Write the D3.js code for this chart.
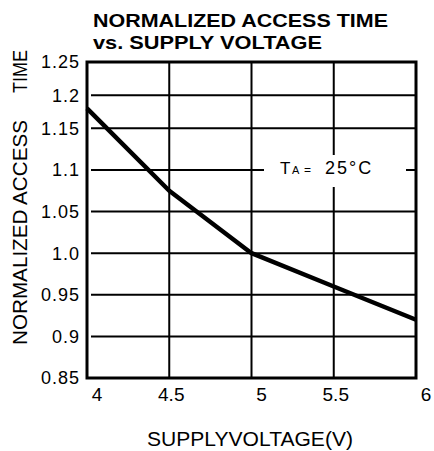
<!DOCTYPE html>
<html>
<head>
<meta charset="utf-8">
<script src="https://cdn.jsdelivr.net/npm/d3@7"></script>
<style>
  body { margin: 0; background: #fff; }
  svg { display: block; font-family: "Liberation Sans", Arial, sans-serif; }
</style>
</head>
<body>
<svg id="chart"></svg>
<script>
var WIDTH = 434;
var HEIGHT = 451;

// data
var voltage = [4, 4.5, 5, 5.5, 6];
var accessTime = [1.18, 1.075, 1.0, 0.96, 0.92];
var xTicks = [4, 4.5, 5, 5.5, 6];
var yTicks = [0.85, 0.9, 0.95, 1.0, 1.05, 1.1, 1.15, 1.2, 1.25];
var yTickLabels = ['0.85', '0.9', '0.95', '1.0', '1.05', '1.1', '1.15', '1.2', '1.25'];

// plot box (don't call these top/left, window.top is taken)
var plotLeft = 87, plotRight = 416, plotTop = 62, plotBottom = 378;

var svg = d3.select('#chart')
    .attr('width', WIDTH)
    .attr('height', HEIGHT);

var x = d3.scaleLinear().domain([4, 6]).range([plotLeft, plotRight]);
// the original grid is a bit squeezed near the top, so use a two-piece scale
var y = d3.scaleLinear()
    .domain([0.85, 1.15, 1.25])
    .range([plotBottom, plotBottom - (plotBottom - plotTop) * 0.79, plotTop]);

var grid = svg.append('g');

// horizontal grid lines (skip the outer ones, the frame draws them)
grid.selectAll('line.h')
    .data(yTicks.slice(1, -1))
    .enter()
    .append('line')
    .attr('class', 'h')
    .attr('x1', plotLeft + 4)
    .attr('x2', plotRight)
    .attr('y1', function(d) { return y(d); })
    .attr('y2', function(d) { return y(d); })
    .attr('stroke', '#000')
    .attr('stroke-width', 2);

// vertical grid lines
grid.selectAll('line.v')
    .data(xTicks.slice(1, -1))
    .enter()
    .append('line')
    .attr('class', 'v')
    .attr('x1', function(d) { return x(d); })
    .attr('x2', function(d) { return x(d); })
    .attr('y1', plotTop)
    .attr('y2', plotBottom)
    .attr('stroke', '#000')
    .attr('stroke-width', 2);

// frame
svg.append('rect')
    .attr('x', plotLeft)
    .attr('y', plotTop)
    .attr('width', plotRight - plotLeft)
    .attr('height', plotBottom - plotTop)
    .attr('fill', 'none')
    .attr('stroke', '#000')
    .attr('stroke-width', 3);

// curve
var line = d3.line()
    .x(function(d) { return x(d[0]); })
    .y(function(d) { return y(d[1]); });

svg.append('path')
    .datum(d3.zip(voltage, accessTime))
    .attr('d', line)
    .attr('fill', 'none')
    .attr('stroke', '#000')
    .attr('stroke-width', 4.5)
    .attr('stroke-linejoin', 'round');

// annotation box
svg.append('rect')
    .attr('x', 264)
    .attr('y', 155)
    .attr('width', 142)
    .attr('height', 32)
    .attr('fill', '#fff');

var ta = svg.append('text')
    .attr('x', 280)
    .attr('y', 174)
    .attr('fill', '#000');
ta.append('tspan').attr('font-size', 17).text('T');
ta.append('tspan').attr('font-size', 11).attr('x', 292).text('A');
ta.append('tspan').attr('font-size', 12).attr('x', 304).text('=');
ta.append('tspan').attr('font-size', 18).attr('x', 325).attr('letter-spacing', 2).text('25°C');

// y tick labels
svg.selectAll('text.ytick')
    .data(yTicks)
    .enter()
    .append('text')
    .attr('class', 'ytick')
    .attr('x', 80)
    .attr('y', function(d) { return y(d); })
    .attr('dy', '0.36em')
    .attr('text-anchor', 'end')
    .attr('font-size', 18)
    .attr('letter-spacing', 1)
    .text(function(d, i) { return yTickLabels[i]; });

// x tick labels (the integers sit a bit right of their grid lines in the original)
svg.selectAll('text.xtick')
    .data(xTicks)
    .enter()
    .append('text')
    .attr('class', 'xtick')
    .attr('x', function(d) { return x(d) + (d % 1 === 0 ? 10 : 2); })
    .attr('y', 401)
    .attr('text-anchor', 'middle')
    .attr('font-size', 19)
    .text(function(d) { return d; });

// axis titles
svg.append('text')
    .attr('x', 250)
    .attr('y', 446)
    .attr('text-anchor', 'middle')
    .attr('font-size', 20)
    .attr('textLength', 206)
    .attr('lengthAdjust', 'spacingAndGlyphs')
    .text('SUPPLYVOLTAGE(V)');

svg.append('text')
    .attr('transform', 'translate(27,345) rotate(-90)')
    .attr('font-size', 21)
    .attr('textLength', 225)
    .attr('lengthAdjust', 'spacingAndGlyphs')
    .text('NORMALIZED ACCESS');

svg.append('text')
    .attr('transform', 'translate(27,93) rotate(-90)')
    .attr('font-size', 21)
    .attr('textLength', 43)
    .attr('lengthAdjust', 'spacingAndGlyphs')
    .text('TIME');

// chart title
svg.append('text')
    .attr('x', 93)
    .attr('y', 27)
    .attr('font-size', 18)
    .attr('font-weight', 'bold')
    .attr('textLength', 295)
    .attr('lengthAdjust', 'spacingAndGlyphs')
    .text('NORMALIZED ACCESS TIME');

svg.append('text')
    .attr('x', 93)
    .attr('y', 49)
    .attr('font-size', 18)
    .attr('font-weight', 'bold')
    .attr('textLength', 229)
    .attr('lengthAdjust', 'spacingAndGlyphs')
    .text('vs. SUPPLY  VOLTAGE');
</script>
</body>
</html>
